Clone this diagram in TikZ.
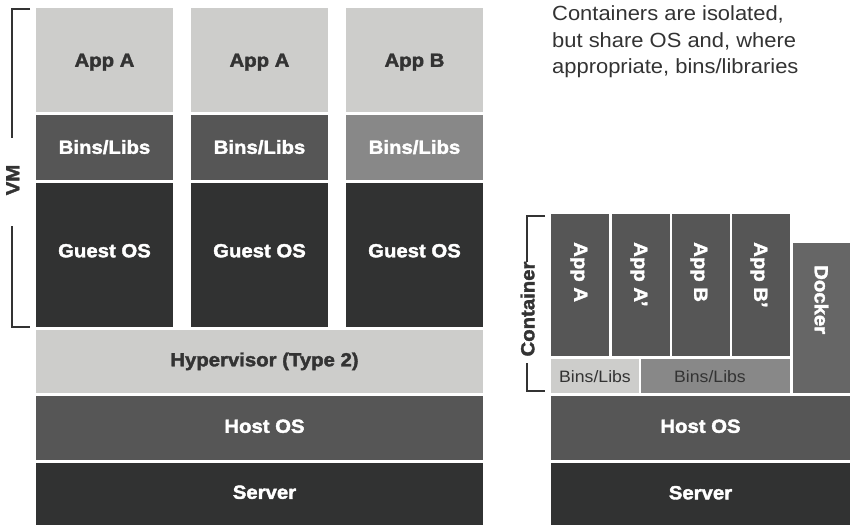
\documentclass[tikz,border=0pt]{standalone}
\usepackage{fontspec}
\setmainfont{Liberation Sans}
\newfontfamily\hn[FakeStretch=1.07]{Liberation Sans}
\newfontfamily\hnbold[FakeStretch=1.07, FakeBold=2]{Liberation Sans Bold}
\definecolor{clight}{HTML}{CDCDCB}
\definecolor{cmid}{HTML}{565656}
\definecolor{cdark}{HTML}{313232}
\definecolor{cgray}{HTML}{888888}
\definecolor{cdock}{HTML}{666666}
\definecolor{ctext}{HTML}{333333}
\tikzset{
  lbl/.style={font=\hnbold\fontsize{19}{22}\selectfont, text height=13.6pt, text depth=0pt, inner sep=0pt, anchor=center},
  wlbl/.style={lbl, text=white},
  dlbl/.style={lbl, text=ctext},
  rlbl/.style={font=\hn\fontsize{16.5}{20}\selectfont, text height=11.8pt, text depth=0pt, inner sep=0pt, text=ctext, anchor=center},
  desc/.style={font=\hn\fontsize{20.5}{26}\selectfont, text=ctext, inner sep=0pt, anchor=base west},
  brk/.style={draw=ctext, line width=2pt},
}
\begin{document}
\begin{tikzpicture}[x=1pt,y=-1pt]
\useasboundingbox (0,0) rectangle (850,525);
% ---------- left stack ----------
\foreach \x/\bc in {36/cmid, 191/cmid, 346/cgray}{
  \fill[clight] (\x,8) rectangle ++(137,104);
  \fill[\bc] (\x,114.5) rectangle ++(137,65.5);
  \fill[cdark] (\x,182.7) rectangle ++(137,144.3);
}
\node[dlbl] (appA1) at (104.5,60) {App A};
\node[dlbl] (appA2) at (259.5,60) {App A};
\node[dlbl] (appB1) at (414.5,60) {App B};
\node[wlbl] (bins1) at (104.5,147) {Bins/Libs};
\node[wlbl] (bins2) at (259.5,147) {Bins/Libs};
\node[wlbl] (bins3) at (414.5,147) {Bins/Libs};
\node[wlbl] (guest1) at (104.5,250.5) {Guest OS};
\node[wlbl] (guest2) at (259.5,250.5) {Guest OS};
\node[wlbl] (guest3) at (414.5,250.5) {Guest OS};
\fill[clight] (36,330) rectangle (483,393);
\node[dlbl] (hyper) at (264.5,359.5) {Hypervisor (Type 2)};
\fill[cmid] (36,396) rectangle (483,460);
\node[wlbl] (hostL) at (264.5,426) {Host OS};
\fill[cdark] (36,462.7) rectangle (483,525);
\node[wlbl] (serverL) at (264.5,492) {Server};
% VM bracket
\coordinate (vmt0) at (30,9);
\coordinate (vmt1) at (11.5,9);
\coordinate (vmt2) at (11.5,138);
\coordinate (vmb0) at (11.5,226);
\coordinate (vmb1) at (11.5,327);
\coordinate (vmb2) at (30,327);
\draw[brk] (vmt0) -- (vmt1) -- (vmt2);
\draw[brk] (vmb0) -- (vmb1) -- (vmb2);
\node[dlbl, rotate=90] (vm) at (12.5,180) {VM};
% ---------- right stack ----------
\foreach \x in {551,612,672,732}{
  \fill[cmid] (\x,214) rectangle ++(57.5,141.7);
}
\node[wlbl, rotate=-90, anchor=west] (rA) at (581,242) {App A};
\node[wlbl, rotate=-90, anchor=west] (rA2) at (641,242) {App A’};
\node[wlbl, rotate=-90, anchor=west] (rB) at (701,242) {App B};
\node[wlbl, rotate=-90, anchor=west] (rB2) at (761,242) {App B’};
\fill[cdock] (792.5,242.7) rectangle (850,393);
\node[wlbl, rotate=-90, anchor=west] (docker) at (821.5,265) {Docker};
\fill[clight] (551,358.5) rectangle (639,393);
\node[rlbl] (rbins1) at (595,377) {Bins/Libs};
\fill[cgray] (641,358.5) rectangle (790,393);
\node[rlbl] (rbins2) at (710,377) {Bins/Libs};
\fill[cmid] (551,396) rectangle (850,459.5);
\node[wlbl] (hostR) at (700.5,426) {Host OS};
\fill[cdark] (551,462.7) rectangle (850,525);
\node[wlbl] (serverR) at (700.5,492.5) {Server};
% Container bracket
\coordinate (ct0) at (545,215.5);
\coordinate (ct1) at (526.5,215.5);
\coordinate (ct2) at (526.5,262);
\coordinate (cb0) at (526.5,363);
\coordinate (cb1) at (526.5,390.5);
\coordinate (cb2) at (545,390.5);
\draw[brk] (ct0) -- (ct1) -- (ct2);
\draw[brk] (cb0) -- (cb1) -- (cb2);
\node[dlbl, rotate=90] (container) at (527.5,309) {Container};
% description
\node[desc] (d1) at (552,20.7) {Containers are isolated,};
\node[desc] (d2) at (552,47) {but share OS and, where};
\node[desc] (d3) at (552,73.3) {appropriate, bins/libraries};
\end{tikzpicture}
\end{document}
